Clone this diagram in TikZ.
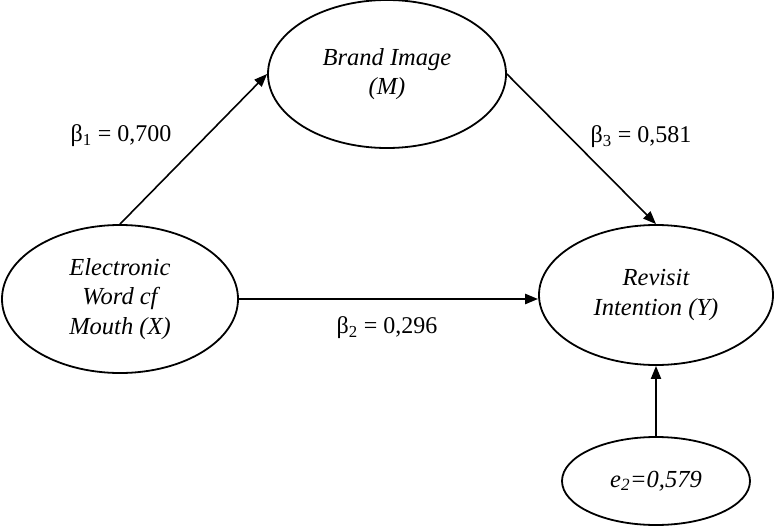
\documentclass[tikz,border=0pt]{standalone}
\usepackage{fontspec}
\setmainfont{Liberation Serif}
\usetikzlibrary{arrows.meta,shapes.geometric}
\tikzset{
  x=1pt, y=-1pt,
  latent/.style={draw, ellipse, line width=1.8pt, inner sep=0pt, align=center,
    font=\fontsize{24.5}{29.5}\selectfont\itshape},
  path/.style={line width=1.6pt, -{Triangle[length=13pt,width=10pt]}},
  coef/.style={font=\fontsize{24}{28}\selectfont, inner sep=0pt}
}
\begin{document}
\begin{tikzpicture}
\useasboundingbox (0,0) rectangle (776,527);
\node[latent, minimum width=236pt, minimum height=148pt] (X) at (120,299) {Electronic\\Word cf\\Mouth (X)};
\node[latent, minimum width=238pt, minimum height=148pt] (M) at (387,74) {Brand Image\\(M)};
\node[latent, minimum width=234pt, minimum height=140pt] (Y) at (656,295) {Revisit\\Intention (Y)};
\node[latent, minimum width=188pt, minimum height=88pt] (E) at (656,481) {e\textsubscript{2}=0,579};
\draw[path] (X.north) -- (M.west);
\draw[path] (M.east) -- (Y.north);
\draw[path, line width=2.4pt] (X.east) -- (X.east -| Y.west);
\draw[path, line width=2pt] (E.north) -- (Y.south);
\node[coef] (b1) at (121,136) {β\textsubscript{1} = 0,700};
\node[coef] (b3) at (641,137) {β\textsubscript{3} = 0,581};
\node[coef] (b2) at (387,328) {β\textsubscript{2} = 0,296};
\end{tikzpicture}
\end{document}
